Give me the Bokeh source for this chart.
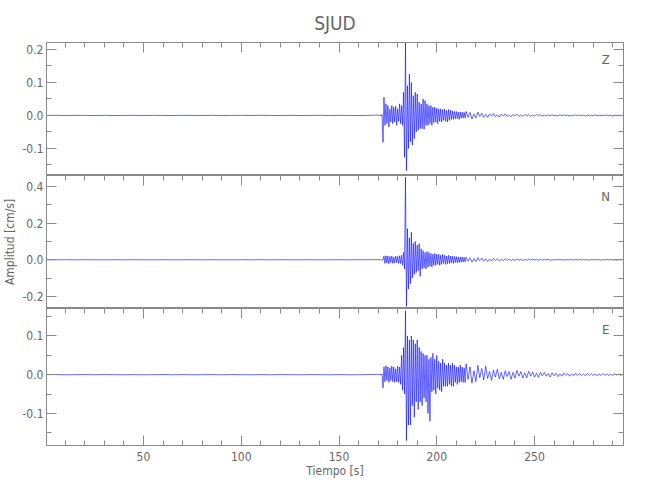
import numpy as np
from bokeh.plotting import figure
from bokeh.layouts import column
from bokeh.models import Range1d, LinearAxis, Label, SingleIntervalTicker, PrintfTickFormatter
from bokeh.embed import file_html
from bokeh.resources import INLINE

station = "SJUD"
components = ["Z", "N", "E"]
x_label = "Tiempo [s]"
y_label = "Amplitud [cm/s]"

# sampling grid (s): quiet pre-event part, onset part, coda part
t_pre = np.arange(0, 170, 5.0)
t_onset = np.arange(170, 215, 0.5)
t_coda = np.arange(215, 296, 1.0)

# ---- Z component (cm/s) ----
z_pre = [0.0000, 0.0003, -0.0003, 0.0002, 0.0000, -0.0003, 0.0003, -0.0002, 0.0000, 0.0003,
         -0.0003, 0.0002, 0.0000, -0.0003, 0.0003, 0.0000, -0.0002, 0.0003, -0.0003, 0.0000,
         0.0003, -0.0002, 0.0003, 0.0000, -0.0003, 0.0002, -0.0003, 0.0000, 0.0003, -0.0002,
         0.0003, 0.0000, -0.0003, 0.0002]
z_onset = [0.001, -0.001, 0.002, -0.002, 0.003, -0.082, 0.055, -0.030, 0.035, -0.025,
           0.030, -0.035, 0.020, -0.020, 0.030, -0.025, 0.025, -0.020, 0.028, -0.030,
           0.020, -0.018, 0.035, -0.025, 0.030, -0.030, 0.070, -0.127, 0.221, -0.167,
           0.090, -0.100, 0.125, -0.080, 0.100, -0.090, 0.060, -0.070, 0.070, -0.050,
           0.065, -0.045, 0.040, -0.040, 0.035, -0.040, 0.050, -0.042, 0.045, -0.030,
           0.035, -0.030, 0.030, -0.025, 0.030, -0.030, 0.025, -0.022, 0.025, -0.020,
           0.022, -0.025, 0.020, -0.018, 0.020, -0.020, 0.018, -0.015, 0.020, -0.018,
           0.015, -0.020, 0.018, -0.015, 0.016, -0.012, 0.014, -0.012, 0.012, -0.010,
           0.012, -0.010, 0.010, -0.012, 0.010, -0.008, 0.010, -0.008, 0.009, -0.008]
z_coda = [0.012, -0.006, 0.009, -0.011, 0.004, -0.008, 0.010, -0.003, 0.007, -0.006,
          0.003, -0.006, 0.005, -0.002, 0.006, -0.004, 0.002, -0.005, 0.004, -0.002,
          0.005, -0.003, 0.002, -0.004, 0.003, -0.001, 0.004, -0.003, 0.002, -0.003,
          0.003, -0.001, 0.002, -0.003, 0.001, -0.002, 0.003, -0.001, 0.002, -0.002,
          0.001, -0.002, 0.002, -0.001, 0.002, -0.001, 0.001, -0.002, 0.002, -0.001,
          0.002, -0.001, 0.001, -0.002, 0.001, -0.001, 0.002, -0.001, 0.001, -0.001,
          0.001, -0.002, 0.001, -0.001, 0.001, -0.001, 0.002, -0.001, 0.001, -0.001,
          0.001, -0.001, 0.001, -0.001, 0.001, -0.002, 0.001, -0.001, 0.001, -0.001,
          0.001]

# ---- N component (cm/s) ----
n_pre = [0.0000, -0.0003, 0.0003, -0.0002, 0.0003, 0.0000, -0.0003, 0.0002, -0.0003, 0.0003,
         0.0000, -0.0003, 0.0003, -0.0002, 0.0000, 0.0003, -0.0003, 0.0002, 0.0000, -0.0003,
         0.0003, -0.0002, 0.0004, -0.0004, 0.0003, 0.0000, -0.0003, 0.0002, -0.0003, 0.0000,
         0.0003, -0.0002, 0.0003, 0.0000]
n_onset = [0.001, -0.001, 0.001, -0.002, 0.002, -0.003, 0.020, -0.020, 0.022, -0.018,
           0.020, -0.022, 0.018, -0.015, 0.020, -0.020, 0.015, -0.018, 0.020, -0.015,
           0.018, -0.020, 0.022, -0.020, 0.025, -0.030, 0.040, -0.050, 0.450, -0.254,
           0.170, -0.160, 0.120, -0.130, 0.150, -0.100, 0.090, -0.080, 0.100, -0.070,
           0.080, -0.060, 0.088, -0.090, 0.060, -0.050, 0.050, -0.045, 0.040, -0.050,
           0.045, -0.040, 0.040, -0.035, 0.035, -0.040, 0.030, -0.030, 0.035, -0.030,
           0.030, -0.025, 0.030, -0.030, 0.025, -0.025, 0.030, -0.020, 0.025, -0.025,
           0.020, -0.022, 0.025, -0.020, 0.020, -0.018, 0.020, -0.020, 0.018, -0.015,
           0.018, -0.016, 0.015, -0.015, 0.016, -0.013, 0.015, -0.012, 0.013, -0.012]
n_coda = [0.014, -0.008, 0.010, -0.013, 0.006, -0.010, 0.012, -0.005, 0.009, -0.008,
          0.006, -0.009, 0.004, -0.007, 0.008, -0.004, 0.006, -0.007, 0.003, -0.005,
          0.006, -0.003, 0.004, -0.005, 0.002, -0.004, 0.005, -0.002, 0.003, -0.004,
          0.002, -0.003, 0.004, -0.002, 0.003, -0.001, 0.003, -0.003, 0.002, -0.002,
          0.003, -0.001, 0.002, -0.003, 0.001, -0.002, 0.002, -0.001, 0.003, -0.002,
          0.001, -0.002, 0.002, -0.001, 0.002, -0.002, 0.001, -0.001, 0.002, -0.001,
          0.002, -0.001, 0.001, -0.002, 0.001, -0.001, 0.002, -0.001, 0.001, -0.002,
          0.001, -0.001, 0.002, -0.001, 0.001, -0.001, 0.001, -0.002, 0.001, -0.001,
          0.001]

# ---- E component (cm/s) ----
e_pre = [0.0000, 0.0003, -0.0003, 0.0000, 0.0003, -0.0002, 0.0003, 0.0000, -0.0003, 0.0002,
         -0.0003, 0.0000, 0.0003, -0.0002, 0.0003, -0.0003, 0.0000, 0.0002, -0.0003, 0.0003,
         0.0000, -0.0003, 0.0002, -0.0003, 0.0003, 0.0000, -0.0002, 0.0003, 0.0000, -0.0003,
         0.0002, -0.0003, 0.0000, 0.0003]
e_onset = [0.001, -0.001, 0.002, -0.001, 0.002, -0.034, 0.020, -0.018, 0.023, -0.015,
           0.020, -0.020, 0.018, -0.015, 0.022, -0.018, 0.020, -0.020, 0.015, -0.018,
           0.022, -0.020, 0.020, -0.025, 0.050, -0.040, 0.070, -0.050, 0.165, -0.170,
           0.100, -0.130, 0.090, -0.130, 0.100, -0.080, 0.090, -0.110, 0.080, -0.070,
           0.090, -0.090, 0.070, -0.070, 0.060, -0.080, 0.055, -0.060, 0.050, -0.070,
           0.050, -0.100, 0.040, -0.120, 0.045, -0.044, 0.055, -0.040, 0.040, -0.050,
           0.050, -0.035, 0.035, -0.040, 0.030, -0.044, 0.040, -0.030, 0.030, -0.030,
           0.025, -0.030, 0.030, -0.025, 0.025, -0.030, 0.030, -0.030, 0.025, -0.020,
           0.020, -0.025, 0.020, -0.020, 0.025, -0.018, 0.020, -0.020, 0.018, -0.020]
e_coda = [0.028, -0.012, 0.020, -0.022, 0.010, -0.018, 0.024, -0.008, 0.016, -0.014,
          0.022, -0.010, 0.008, -0.015, 0.012, -0.006, 0.014, -0.011, 0.006, -0.012,
          0.010, -0.005, 0.008, -0.012, 0.006, -0.009, 0.011, -0.004, 0.008, -0.009,
          0.005, -0.008, 0.009, -0.004, 0.007, -0.006, 0.004, -0.007, 0.006, -0.003,
          0.006, -0.004, 0.003, -0.006, 0.005, -0.003, 0.004, -0.005, 0.002, -0.004,
          0.004, -0.002, 0.003, -0.004, 0.002, -0.003, 0.004, -0.002, 0.003, -0.003,
          0.002, -0.003, 0.003, -0.002, 0.003, -0.002, 0.002, -0.003, 0.002, -0.002,
          0.003, -0.002, 0.002, -0.002, 0.001, -0.002, 0.002, -0.001, 0.002, -0.002,
          0.001]

y_ranges = {"Z": (-0.182, 0.221), "N": (-0.266, 0.46), "E": (-0.183, 0.171)}
y_intervals = {"Z": 0.1, "N": 0.2, "E": 0.1}
x_start, x_end = 0.4, 295.5

t = np.concatenate([t_pre, t_onset, t_coda])
traces = {
    "Z": np.concatenate([z_pre, z_onset, z_coda]),
    "N": np.concatenate([n_pre, n_onset, n_coda]),
    "E": np.concatenate([e_pre, e_onset, e_coda]),
}

FONT = "Liberation Sans Narrow, DejaVu Sans Condensed, sans-serif"
AX = "#8a8a8a"
TX = "#666666"

x_range = Range1d(x_start, x_end)
x_ticker = SingleIntervalTicker(interval=50, num_minor_ticks=5)


def style_axis(ax, show_labels):
    ax.axis_line_color = AX
    ax.major_tick_line_color = AX
    ax.minor_tick_line_color = AX
    ax.major_tick_in = 10
    ax.major_tick_out = 0
    ax.minor_tick_in = 5
    ax.minor_tick_out = 0
    ax.major_label_text_font = FONT
    ax.axis_label_text_font = FONT
    ax.axis_label_text_color = TX
    ax.axis_label_text_font_style = "normal"
    ax.axis_label_text_font_size = "12px"
    if show_labels:
        ax.major_label_text_color = TX
        ax.major_label_text_font_size = "12px"
        ax.major_label_standoff = 3
    else:
        ax.major_label_text_color = None
        ax.major_label_text_font_size = "1px"
        ax.major_label_standoff = 0


panels = []
heights = {"Z": 133, "N": 133, "E": 137}
label_y = {"Z": 0.17, "N": 0.345, "E": 0.117}
for i, comp in enumerate(components):
    first = i == 0
    last = i == len(components) - 1
    p = figure(
        output_backend="svg", toolbar_location=None,
        frame_width=577, frame_height=heights[comp],
        x_range=x_range, y_range=Range1d(*y_ranges[comp]),
        x_axis_location="below" if last else "above",
        min_border_left=39, min_border_right=14,
        min_border_top=35 if first else 0,
        min_border_bottom=34 if last else 0,
        title=station if first else None,
    )
    p.xgrid.visible = False
    p.ygrid.visible = False
    p.outline_line_color = AX
    p.background_fill_color = "white"
    p.border_fill_color = "white"

    if first:
        p.title.text_font = FONT
        p.title.text_font_size = "19px"
        p.title.text_font_style = "normal"
        p.title.text_color = TX
        p.title.align = "center"
        p.title.standoff = 18

    yticker = SingleIntervalTicker(interval=y_intervals[comp], num_minor_ticks=2)
    # left axis
    ya = p.yaxis[0]
    ya.ticker = yticker
    ya.formatter = PrintfTickFormatter(format="%.1f")
    style_axis(ya, True)
    ya.axis_label = y_label if comp == "N" else " "
    ya.axis_label_standoff = 2
    # right axis (ticks only)
    ra = LinearAxis(ticker=yticker)
    style_axis(ra, False)
    p.add_layout(ra, "right")

    xa = p.xaxis[0]
    xa.ticker = x_ticker
    if last:
        style_axis(xa, True)
        xa.major_label_standoff = 6
        xa.axis_label = x_label
        xa.axis_label_standoff = 0
        ta = LinearAxis(ticker=x_ticker)
        style_axis(ta, False)
        p.add_layout(ta, "above")
    else:
        style_axis(xa, False)

    y = traces[comp]
    p.line(t, y, line_color="#0000ff", line_width=0.6)

    p.add_layout(Label(x=286.4, y=label_y[comp], text=comp, text_font=FONT,
                       text_font_size="13px", text_color=TX,
                       text_align="center", text_baseline="middle"))
    panels.append(p)

layout = column(*panels, spacing=0)
open("out.html", "w").write(file_html(layout, INLINE))
